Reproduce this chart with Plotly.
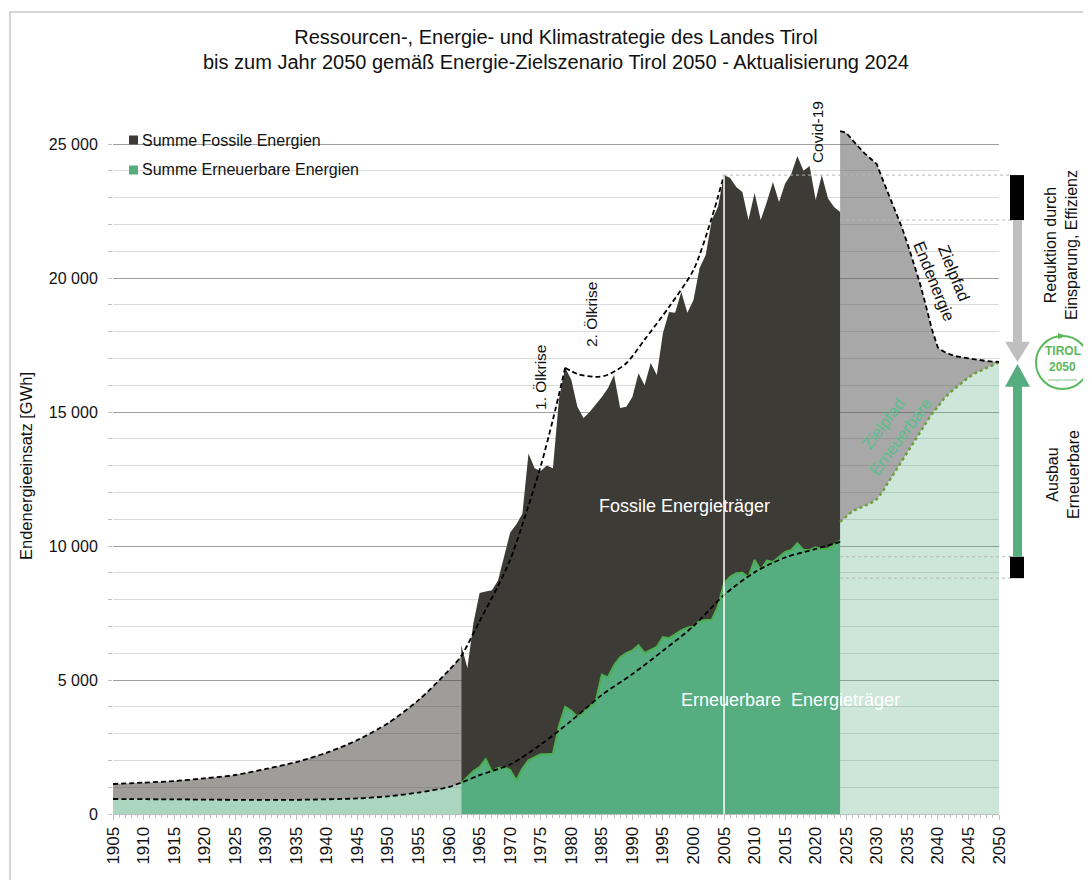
import plotly.graph_objects as go

# ---------------- data (GWh) ----------------
# estimated history 1905-1962
est_years = [1905, 1910, 1915, 1920, 1925, 1930, 1935, 1940, 1945, 1950, 1955, 1960, 1962]
est_total = [1120, 1170, 1230, 1330, 1455, 1680, 1940, 2290, 2760, 3390, 4250, 5370, 5900]
est_renew = [560, 550, 540, 530, 530, 530, 530, 550, 580, 660, 800, 1010, 1150]

# measured 1962-2024
act_years = list(range(1962, 2025))
act_total = [6300, 5450, 7150, 8250, 8300, 8350, 8700, 9600, 10500, 10800,
             11200, 13450, 12900, 12800, 13000, 12900, 15500, 16650, 16200, 15200,
             14780, 15000, 15260, 15560, 15890, 16380, 15150, 15200, 15560, 16450,
             16000, 16830, 16380, 17950, 18730, 18700, 19480, 18700, 19180, 20370,
             20860, 22160, 22650, 23840, 23730, 23400, 23210, 22160, 23170, 22160,
             22840, 23580, 22840, 23530, 23880, 24550, 24000, 24180, 22910, 23840,
             22980, 22650, 22460]
act_renew = [1150, 1380, 1600, 1750, 2050, 1570, 1720, 1750, 1640, 1250,
             1700, 2000, 2130, 2230, 2230, 2250, 3300, 4000, 3850, 3620,
             3800, 4000, 4200, 5200, 5100, 5550, 5850, 6000, 6100, 6300,
             6000, 6120, 6240, 6600, 6560, 6700, 6850, 6950, 7000, 7200,
             7240, 7250, 7750, 8600, 8850, 8980, 9000, 8840, 9480, 9100,
             9450, 9400, 9600, 9780, 9850, 10100, 9850, 9850, 9950, 9900,
             9900, 10050, 10200]

# target path 2024-2050
tgt_years = list(range(2024, 2051))
tgt_total = [25480, 25420, 25150, 24900, 24650, 24450, 24250, 23650, 23100, 22500,
             21950, 21300, 20600, 19850, 19000, 18100, 17400, 17250, 17150, 17080,
             17040, 17000, 16960, 16930, 16900, 16880, 16870]
tgt_renew = [10900, 11100, 11300, 11400, 11500, 11600, 11750, 12050, 12420, 12780,
             13130, 13500, 13850, 14200, 14570, 14930, 15200, 15500, 15730, 15920,
             16120, 16290, 16440, 16560, 16650, 16750, 16850]

# dashed trend curves
trend_total_a_years = [1905, 1910, 1915, 1920, 1925, 1930, 1935, 1940, 1945, 1950, 1955,
                       1960, 1962, 1965, 1968, 1970, 1972, 1975, 1977, 1979]
trend_total_a = [1120, 1170, 1230, 1330, 1455, 1680, 1940, 2290, 2760, 3390, 4250,
                 5370, 5900, 7200, 8500, 9480, 10800, 12980, 14720, 16650]
trend_total_b_years = [1979, 1981, 1984, 1986, 1989, 1992, 1996, 2000, 2003, 2005]
trend_total_b = [16650, 16420, 16310, 16390, 16820, 17700, 18920, 20300, 22250, 23840]
trend_renew_years = [1905, 1915, 1925, 1935, 1945, 1950, 1955, 1960, 1962, 1965, 1970,
                     1975, 1980, 1985, 1990, 1995, 2000, 2005, 2010, 2015, 2020, 2024]
trend_renew = [560, 545, 530, 530, 580, 660, 800, 1010, 1170, 1450, 1850,
               2590, 3480, 4440, 5220, 6090, 7010, 8170, 9020, 9570, 9890, 10150]

# right-hand bar levels
reduction_block = [22160, 23840]
renew_block = [8800, 9600]
target_2050 = tgt_total[-1]

legend_names = ["Summe Fossile Energien", "Summe Erneuerbare Energien"]

x_ticks = list(range(1905, 2051, 5))
y_ticks = [0, 5000, 10000, 15000, 20000, 25000]
y_tick_text = ["0", "5 000", "10 000", "15 000", "20 000", "25 000"]

# ---------------- style / geometry ----------------
FONT = "Liberation Sans, Arial, sans-serif"
TXT = "#111111"
DARK = "#3d3b36"
GREEN = "#55ad80"
GREEN_LINE = "#4caf50"
XMIN, XMAX = 1905, 2050
YMAX = 25970
W, H = 1091, 880
OFF = 8                      # page body margin of the browser
PX0, PX1, PY1 = 113, 999, 814  # plot area in page pixels (left, right, bottom)
PW = PX1 - PX0
PH = 696
PY0 = PY1 - PH
L, T = PX0 - OFF, PY0 - OFF
R, B = W - (PX1 - OFF), H - (PY1 - OFF)


def px_x(px):
    return (px - PX0) / PW


def px_y(py):
    return (PY1 - py) / PH


def py_val(py):
    return (PY1 - py) / PH * YMAX


def year_to_paper(yr):
    return (yr - XMIN) / (XMAX - XMIN)


fig = go.Figure()

# estimated history
fig.add_trace(go.Scatter(x=est_years, y=est_renew, mode="lines", line=dict(width=0, shape="spline"),
                         fill="tozeroy", fillcolor="rgba(85,173,128,0.5)", showlegend=False, hoverinfo="skip"))
fig.add_trace(go.Scatter(x=est_years, y=est_total, mode="lines", line=dict(width=0, shape="spline"),
                         fill="tonexty", fillcolor="rgba(61,59,54,0.5)", showlegend=False, hoverinfo="skip"))
# measured
fig.add_trace(go.Scatter(x=act_years, y=act_renew, mode="lines", line=dict(width=2, color=GREEN_LINE),
                         fill="tozeroy", fillcolor=GREEN, name=legend_names[1], showlegend=False))
fig.add_trace(go.Scatter(x=act_years, y=act_total, mode="lines", line=dict(width=0, color=DARK),
                         fill="tonexty", fillcolor=DARK, name=legend_names[0], showlegend=False))
# target path
fig.add_trace(go.Scatter(x=tgt_years, y=tgt_renew, mode="lines",
                         line=dict(width=2.5, color="#6e9e3a", dash="dot"),
                         fill="tozeroy", fillcolor="rgba(85,173,128,0.3)", showlegend=False))
fig.add_trace(go.Scatter(x=tgt_years, y=tgt_total, mode="lines",
                         line=dict(width=1.8, color="black", dash="5px,3px"),
                         fill="tonexty", fillcolor="rgba(82,82,82,0.5)", showlegend=False))
# trend curves
for xs, ys in [(trend_total_a_years, trend_total_a), (trend_total_b_years, trend_total_b),
               (trend_renew_years, trend_renew)]:
    fig.add_trace(go.Scatter(x=xs, y=ys, mode="lines",
                             line=dict(width=1.8, color="black", dash="5px,3px", shape="spline", smoothing=0.8),
                             showlegend=False, hoverinfo="skip"))
# white 2005 marker line
fig.add_trace(go.Scatter(x=[2005, 2005], y=[0, act_total[act_years.index(2005)]], mode="lines",
                         line=dict(width=1.5, color="white"), showlegend=False, hoverinfo="skip"))

shapes = []
# outer frame
shapes.append(dict(type="rect", xref="paper", yref="paper", x0=px_x(10), x1=px_x(1200),
                   y0=px_y(12), y1=px_y(1000), line=dict(color="#c8c8c8", width=1.5)))
# legend box + markers
shapes.append(dict(type="rect", xref="paper", yref="paper", x0=px_x(118), x1=px_x(363),
                   y0=px_y(186), y1=px_y(129), fillcolor="white", line=dict(width=0), layer="between"))
for i, col in enumerate([DARK, GREEN]):
    cy = 140 + 30 * i
    shapes.append(dict(type="rect", xref="paper", yref="paper", x0=px_x(129), x1=px_x(138),
                       y0=px_y(cy + 4.5), y1=px_y(cy - 4.5), fillcolor=col, line=dict(width=0)))
# dotted connectors
for lvl, start in [(reduction_block[1], 2005), (reduction_block[0], 2024),
                   (renew_block[1], 2024), (renew_block[0], 2024)]:
    shapes.append(dict(type="line", xref="paper", yref="y", x0=year_to_paper(start), x1=px_x(1011),
                       y0=lvl, y1=lvl, line=dict(color="#b5b5b5", width=1, dash="dot")))
# black blocks
for lo, hi in [reduction_block, renew_block]:
    shapes.append(dict(type="rect", xref="paper", yref="y", x0=px_x(1010), x1=px_x(1024),
                       y0=lo, y1=hi, fillcolor="black", line=dict(width=0)))
head = 750
sx0, sx1 = px_x(1013), px_x(1022)
hx0, hx1, hxc = px_x(1005), px_x(1030), px_x(1017.5)
# grey arrow down
shapes.append(dict(type="path", xref="paper", yref="y", fillcolor="#bfbfbf", line=dict(width=0),
                   path=f"M {sx0} {reduction_block[0]} L {sx1} {reduction_block[0]} L {sx1} {target_2050 + head} "
                        f"L {hx1} {target_2050 + head} L {hxc} {target_2050} L {hx0} {target_2050 + head} "
                        f"L {sx0} {target_2050 + head} Z"))
# green arrow up
tip = target_2050 - 80
shapes.append(dict(type="path", xref="paper", yref="y", fillcolor=GREEN, line=dict(width=0),
                   path=f"M {sx0} {renew_block[1]} L {sx1} {renew_block[1]} L {sx1} {tip - head - 100} "
                        f"L {hx1} {tip - head - 100} L {hxc} {tip} L {hx0} {tip - head - 100} "
                        f"L {sx0} {tip - head - 100} Z"))
# TIROL 2050 logo circle
LOGO = "#5cb85c"
shapes.append(dict(type="circle", xref="paper", yref="paper", x0=px_x(1036), x1=px_x(1089),
                   y0=px_y(389), y1=px_y(336), line=dict(color=LOGO, width=2)))
shapes.append(dict(type="path", xref="paper", yref="paper", fillcolor=LOGO, line=dict(width=0),
                   path=f"M {px_x(1058)} {px_y(333)} L {px_x(1066)} {px_y(336)} L {px_x(1058)} {px_y(339)} Z"))

ann = []


def add(text, x, y, size=16, color=TXT, angle=0, xref="x", yref="y", xanchor="center"):
    ann.append(dict(text=text, x=x, y=y, xref=xref, yref=yref, showarrow=False, textangle=angle,
                    font=dict(family=FONT, size=size, color=color), xanchor=xanchor, yanchor="middle"))


# second title line
add("bis zum Jahr 2050 gemäß Energie-Zielszenario Tirol 2050 - Aktualisierung 2024",
    0.5, px_y(62), size=20, xref="paper", yref="paper")
# legend texts
for i, name in enumerate(legend_names):
    add(name, px_x(140), px_y(140 + 30 * i), size=16, xref="paper", yref="paper", xanchor="left")

add("1. Ölkrise", 1975.05, 16270, size=15.5, angle=-90)
add("2. Ölkrise", 1983.4, 18620, size=15.5, angle=-90)
add("Covid-19", 2020.4, 25450, size=15.5, angle=-90)
add("Fossile Energieträger", 1998.45, 11490, size=18, color="white")
add("Erneuerbare  Energieträger", 2015.8, 4250, size=18, color="white")
add("Zielpfad<br>Endenergie", 2041.0, 20040, size=16.5, angle=68)
add("Zielpfad<br>Erneuerbare", 2032.5, 14330, size=16.5, angle=-53, color="#5bbf8c")
add("Reduktion durch<br>Einsparung, Effizienz", px_x(1061), py_val(245), size=16,
    angle=-90, xref="paper")
add("Ausbau<br>Erneuerbare", px_x(1063), py_val(475), size=16, angle=-90, xref="paper")
add("<b>TIROL</b>", px_x(1062.5), px_y(350.5), size=12, color=LOGO, xref="paper", yref="paper")
add("<b>2050</b>", px_x(1062.5), px_y(367), size=12, color=LOGO, xref="paper", yref="paper")
add("energieautonom", px_x(1062.5), px_y(380), size=4, color=LOGO, xref="paper", yref="paper")
add("Endenergieeinsatz [GWh]", px_x(26), px_y(466), size=16.5, angle=-90, xref="paper", yref="paper")

fig.update_layout(
    width=W, height=H,
    margin=dict(l=L, r=R, t=T, b=B, pad=0),
    paper_bgcolor="white", plot_bgcolor="white",
    font=dict(family=FONT, size=16, color=TXT),
    showlegend=False,
    title=dict(text="Ressourcen-, Energie- und Klimastrategie des Landes Tirol",
               x=0.5, xref="paper", xanchor="center", y=1 - (37 - OFF) / H, yanchor="middle",
               font=dict(family=FONT, size=20, color=TXT)),
    xaxis=dict(range=[XMIN, XMAX], tickvals=x_ticks, ticktext=[str(v) for v in x_ticks],
               tickangle=-90, showgrid=False, zeroline=False, showline=True, linecolor="#bfbfbf",
               ticks="outside", ticklen=5, tickcolor="#bfbfbf",
               minor=dict(dtick=1, tick0=1905, ticks="outside", ticklen=3, tickcolor="#bfbfbf"),
               tickfont=dict(family=FONT, size=17, color=TXT)),
    yaxis=dict(range=[0, YMAX], tickvals=y_ticks, ticktext=y_tick_text, showgrid=True,
               gridcolor="#a0a0a0", gridwidth=1, zeroline=False, showline=False,
               ticks="outside", ticklen=4, tickcolor="#bfbfbf", ticklabelstandoff=7,
               minor=dict(dtick=1000, tick0=0, showgrid=True, gridcolor="#dadada", gridwidth=1,
                          ticks="outside", ticklen=4, tickcolor="#bfbfbf"),
               tickfont=dict(family=FONT, size=16, color=TXT)),
    shapes=shapes, annotations=ann,
)

fig.write_html("out.html")
